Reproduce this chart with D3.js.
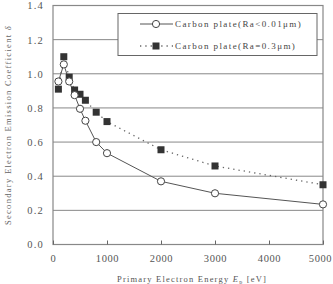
<!DOCTYPE html>
<html>
<head>
<meta charset="utf-8">
<script src="https://cdn.jsdelivr.net/npm/d3@7"></script>
<style>
  body { margin: 0; background: #fff; }
  svg { display: block; }
</style>
</head>
<body>
<div id="chart"></div>
<script>
// data
var energy = [100, 200, 300, 400, 500, 600, 800, 1000, 2000, 3000, 5000];
var smooth = [0.955, 1.055, 0.955, 0.875, 0.795, 0.725, 0.60, 0.535, 0.37, 0.30, 0.235];
var rough  = [0.91, 1.10, 0.98, 0.905, 0.88, 0.845, 0.775, 0.72, 0.555, 0.46, 0.35];
var xTicks = [0, 1000, 2000, 3000, 4000, 5000];
var yTicks = [0.0, 0.2, 0.4, 0.6, 0.8, 1.0, 1.2, 1.4];
var legendLabels = ["Carbon plate(Ra<0.01\u03bcm)", "Carbon plate(Ra=0.3\u03bcm)"];

var width = 333, height = 284;
var margin = {top: 5.5, right: 10, bottom: 39.5, left: 53};

var svg = d3.select("#chart").append("svg")
    .attr("width", width)
    .attr("height", height);

var x = d3.scaleLinear().domain([0, 5000]).range([margin.left, width - margin.right]);
var y = d3.scaleLinear().domain([0, 1.4]).range([height - margin.bottom, margin.top]);

var font = "'Liberation Serif', 'DejaVu Serif', serif";

// horizontal grid
svg.selectAll("line.grid")
    .data(yTicks)
    .enter().append("line")
    .attr("class", "grid")
    .attr("x1", x(0)).attr("x2", x(5000))
    .attr("y1", d => y(d)).attr("y2", d => y(d))
    .style("stroke", "#888")
    .style("stroke-width", 1);

// frame
svg.append("rect")
    .attr("x", x(0)).attr("y", y(1.4))
    .attr("width", x(5000) - x(0)).attr("height", y(0) - y(1.4))
    .style("fill", "none")
    .style("stroke", "#888")
    .style("stroke-width", 1.2);

// x axis, ticks pointing inward
var xAxis = svg.append("g")
    .attr("transform", "translate(0," + y(0) + ")")
    .call(d3.axisBottom(x).tickValues(xTicks).tickFormat(d3.format("d"))
        .tickSizeInner(-4).tickSizeOuter(0).tickPadding(10));
xAxis.select(".domain").remove();
xAxis.selectAll("line").style("stroke", "#666");
xAxis.selectAll("text")
    .style("font-family", font).style("font-size", "10.5px")
    .style("letter-spacing", "0.6px")
    .style("fill", "#555");
// last label would run off the right edge
xAxis.selectAll("text").filter(d => d === 5000).attr("dx", -3);

// y axis labels only
var yAxis = svg.append("g")
    .attr("transform", "translate(" + x(0) + ",0)")
    .call(d3.axisLeft(y).tickValues(yTicks).tickFormat(d3.format(".1f")).tickSize(0).tickPadding(9));
yAxis.select(".domain").remove();
yAxis.selectAll("text")
    .style("font-family", font).style("font-size", "10.5px")
    .style("letter-spacing", "1.2px")
    .style("fill", "#555");

// series lines
var line = d3.line().x((d, i) => x(energy[i])).y(d => y(d));

svg.append("path")
    .datum(rough)
    .attr("d", line)
    .style("fill", "none")
    .style("stroke", "#666")
    .style("stroke-width", 1.3)
    .style("stroke-dasharray", "1.3,4");

svg.append("path")
    .datum(smooth)
    .attr("d", line)
    .style("fill", "none")
    .style("stroke", "#555")
    .style("stroke-width", 1);

// markers
var sq = 7;
svg.selectAll("rect.rough")
    .data(rough)
    .enter().append("rect")
    .attr("class", "rough")
    .attr("x", (d, i) => x(energy[i]) - sq / 2)
    .attr("y", d => y(d) - sq / 2)
    .attr("width", sq).attr("height", sq)
    .style("fill", "#333");

svg.selectAll("circle.smooth")
    .data(smooth)
    .enter().append("circle")
    .attr("class", "smooth")
    .attr("cx", (d, i) => x(energy[i]))
    .attr("cy", d => y(d))
    .attr("r", 3.6)
    .style("fill", "#fff")
    .style("stroke", "#444")
    .style("stroke-width", 1);

// legend
var lg = svg.append("g");
lg.append("rect")
    .attr("x", 118).attr("y", 13.5)
    .attr("width", 199).attr("height", 42)
    .style("fill", "#fff")
    .style("stroke", "#666")
    .style("stroke-width", 1);

var rows = [24, 46];
lg.append("line")
    .attr("x1", 140).attr("x2", 173).attr("y1", rows[0]).attr("y2", rows[0])
    .style("stroke", "#555");
lg.append("circle")
    .attr("cx", 156).attr("cy", rows[0]).attr("r", 3.6)
    .style("fill", "#fff").style("stroke", "#444");
lg.append("line")
    .attr("x1", 140).attr("x2", 173).attr("y1", rows[1]).attr("y2", rows[1])
    .style("stroke", "#666").style("stroke-width", 1.3).style("stroke-dasharray", "1.3,4");
lg.append("rect")
    .attr("x", 156 - sq / 2).attr("y", rows[1] - sq / 2)
    .attr("width", sq).attr("height", sq)
    .style("fill", "#333");

lg.selectAll("text")
    .data(legendLabels)
    .enter().append("text")
    .attr("x", 175)
    .attr("y", (d, i) => rows[i])
    .attr("dy", "0.35em")
    .text(d => d)
    .style("font-family", font).style("font-size", "9px")
    .style("letter-spacing", "1.4px")
    .style("fill", "#444");

// axis titles
var xt = svg.append("text")
    .attr("x", 192).attr("y", 282)
    .attr("text-anchor", "middle")
    .style("font-family", font).style("font-size", "8.5px")
    .style("letter-spacing", "1.2px")
    .style("fill", "#555");
xt.append("tspan").text("Primary Electron Energy ");
xt.append("tspan").text("E").style("font-style", "italic");
xt.append("tspan").text("p").attr("dy", 2).style("font-size", "6px");
xt.append("tspan").text(" [eV]").attr("dy", -2);

var yt = svg.append("text")
    .attr("transform", "translate(11," + 125 + ") rotate(-90)")
    .attr("text-anchor", "middle")
    .style("font-family", font).style("font-size", "8.5px")
    .style("letter-spacing", "1.3px")
    .style("fill", "#666");
yt.append("tspan").text("Secondary Electron Emission Coefficient  ");
yt.append("tspan").text("\u03b4").style("font-style", "italic");
</script>
</body>
</html>
